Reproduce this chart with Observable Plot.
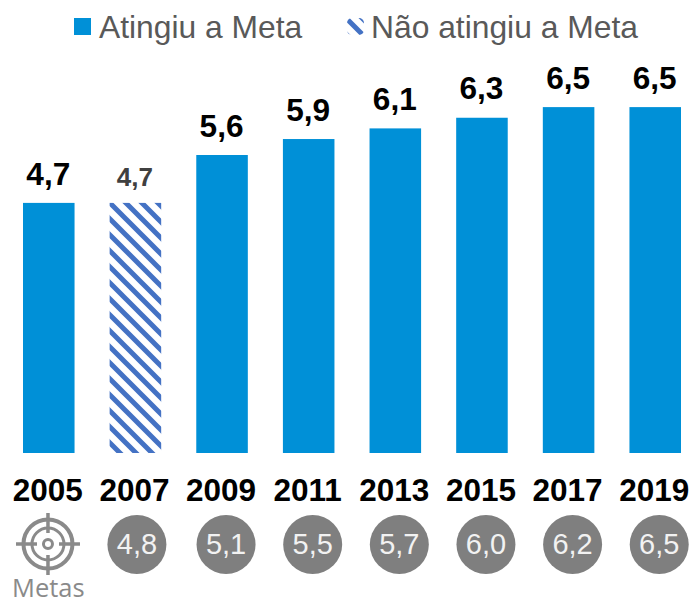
<!DOCTYPE html>
<html><head><meta charset="utf-8">
<script src="https://cdn.jsdelivr.net/npm/d3@7"></script>
<script src="https://cdn.jsdelivr.net/npm/@observablehq/plot@0.6"></script>
<style>
html,body{margin:0;padding:0;background:#fff;width:691px;height:600px;overflow:hidden}
#legend{position:relative;height:60px;font:31.8px "Liberation Sans",Arial,sans-serif;color:#595959}
#legend svg{position:absolute;top:18px;width:17px;height:17px}
#legend span{position:absolute;top:9px;line-height:36px;white-space:nowrap}
</style></head><body>
<div id="legend">
<svg style="left:74px"><rect width="17" height="17" fill="#0090d7"/></svg><span style="left:99px">Atingiu a Meta</span>
<svg style="left:347px"><rect width="17" height="17" rx="5" fill="url(#hatch)"/></svg><span style="left:371px">Não atingiu a Meta</span>
</div>
<div id="chart"></div>
<script>
const years = ["2005","2007","2009","2011","2013","2015","2017","2019"];
const values = [4.7,4.7,5.6,5.9,6.1,6.3,6.5,6.5];
const reached = [true,false,true,true,true,true,true,true];
const goalYears = ["2007","2009","2011","2013","2015","2017","2019"];
const goals = [4.8,5.1,5.5,5.7,6.0,6.2,6.5];
const blue = "#0090d7", gray = "#7f7f7f", iconGray = "#8a8a8a";
const fmt = v => v.toFixed(1).replace(".", ",");
const rows = years.map((year,i)=>({year,value:values[i],ok:reached[i]}));
const goalRows = goalYears.map((year,i)=>({year,goal:goals[i]}));

function hatchDefs(){
  const s = d3.create("svg:defs");
  const p = s.append("pattern").attr("id","hatch").attr("patternUnits","userSpaceOnUse")
    .attr("width",16).attr("height",16).attr("x",0).attr("y",1);
  p.append("rect").attr("width",16).attr("height",16).attr("fill","#fff");
  p.append("path").attr("d","M-4,-4L20,20M-4,12L4,20M12,-4L20,4")
    .attr("stroke","#4472c4").attr("stroke-width",5).attr("fill","none");
  return s.node();
}
function target(index,{x},channels,{height,marginBottom}){
  const g = d3.create("svg:g").attr("fill","none").attr("stroke",iconGray)
    .attr("transform",`translate(${x("2005")+x.bandwidth()/2-0.8},${height-marginBottom+91})`);
  g.append("circle").attr("r",24.5).attr("stroke-width",4);
  g.append("circle").attr("r",16).attr("stroke-width",3);
  g.append("circle").attr("r",4.5).attr("stroke-width",3);
  for(const [a,b,c,d] of [[-32,0,-11,0],[11,0,32,0],[0,-31,0,-11],[0,11,0,31]])
    g.append("line").attr("x1",a).attr("y1",b).attr("x2",c).attr("y2",d).attr("stroke-width",3.5);
  return g.node();
}
const goalMarks = (data,dx) => [
  Plot.dot(data,{x:"year",frameAnchor:"bottom",dy:91,dx,r:29.5,fill:gray,stroke:"none"}),
  Plot.text(data,{x:"year",frameAnchor:"bottom",lineAnchor:"middle",dy:91,dx,text:d=>fmt(d.goal),fontSize:29,fill:"#f2f2f2"})
];
const chart = Plot.plot({
  width:691,height:540,
  marginTop:20.5,marginBottom:147,marginLeft:23,marginRight:10,
  style:{fontFamily:"'Liberation Sans',Arial,sans-serif",background:"transparent",overflow:"visible"},
  x:{type:"band",domain:years,paddingInner:0.405,paddingOuter:0,round:false,label:null},
  y:{domain:[0,7],axis:null,label:null},
  marks:[
    hatchDefs,
    Plot.barY(rows.filter(d=>d.ok),{x:"year",y:"value",fill:blue}),
    Plot.barY(rows.filter(d=>!d.ok),{x:"year",y:"value",fill:"url(#hatch)"}),
    Plot.text(rows.filter(d=>d.ok),{x:"year",y:"value",text:d=>fmt(d.value),dx:-1,dy:-29,fontSize:31.6,fontWeight:"bold",fill:"#000"}),
    Plot.text(rows.filter(d=>!d.ok),{x:"year",y:"value",text:d=>fmt(d.value),dx:-1,dy:-26,fontSize:26,fontWeight:"bold",fill:"#404040"}),
    Plot.axisX({anchor:"bottom",tickSize:0,tickPadding:25,dx:-1.5,fontSize:31.5,fontWeight:"bold",fill:"#000",label:null}),
    goalMarks(goalRows.slice(0,1),1),
    goalMarks(goalRows.slice(1),3.5),
    target,
    Plot.text(["Metas"],{x:()=>"2005",frameAnchor:"bottom",lineAnchor:"middle",dx:-1,dy:135,text:d=>d,fontSize:25.5,fontFamily:"'Open Sans'",fill:iconGray})
  ]
});
document.getElementById("chart").append(chart);
</script>
</body></html>
